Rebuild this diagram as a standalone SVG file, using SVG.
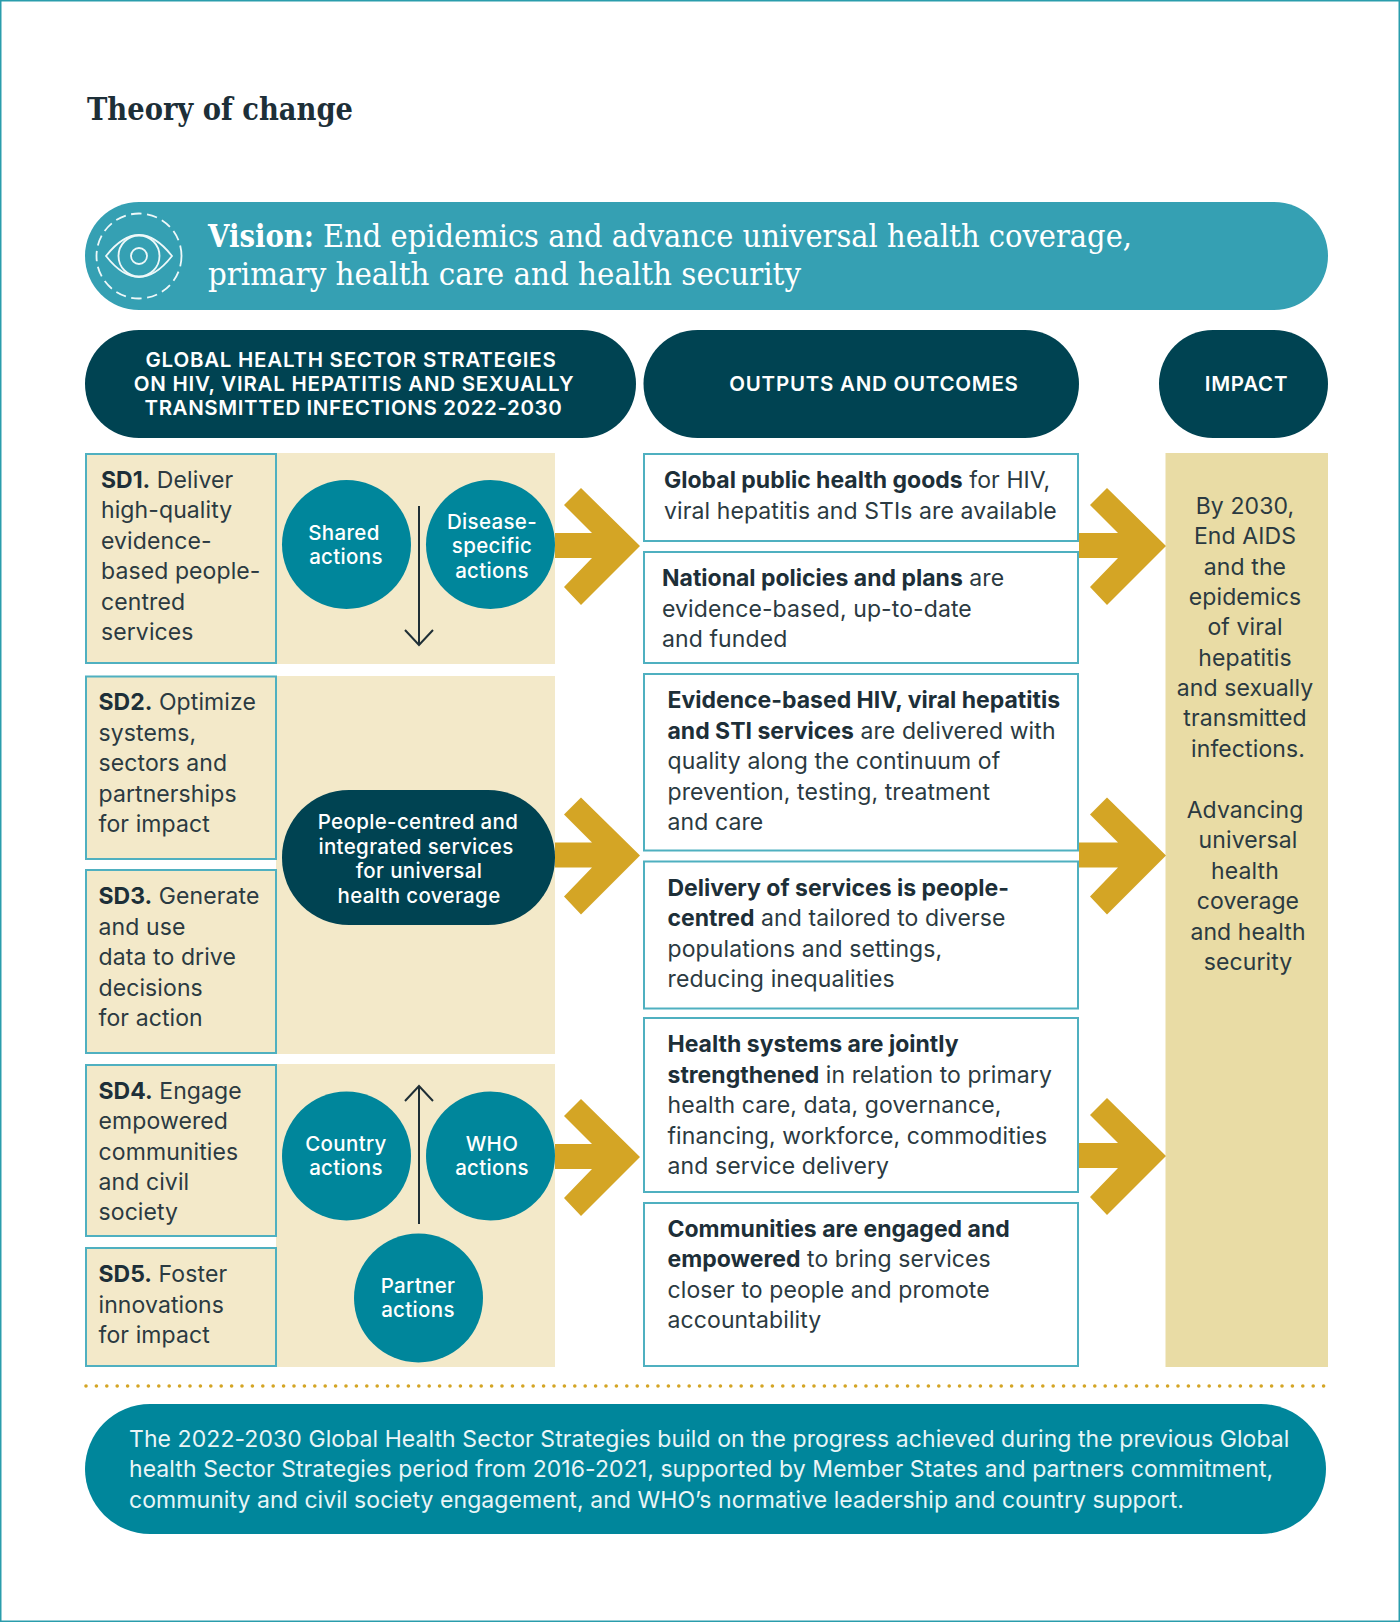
<svg xmlns="http://www.w3.org/2000/svg" width="1400" height="1622" viewBox="0 0 1400 1622">
<style>
text{font-family:Inter,"Liberation Sans",sans-serif}
.b{font-size:23px;fill:#2b3a41;letter-spacing:0.1px}
.s{font-weight:700;fill:#1d2f38;letter-spacing:0}
.w{font-size:20.5px;fill:#fff;font-weight:500;text-anchor:middle;letter-spacing:0.34px}
.h{font-size:20.5px;fill:#fff;font-weight:600;text-anchor:middle;letter-spacing:0.75px}
.f{font-size:23px;fill:#e9f5f7;letter-spacing:0.07px}
.sd{fill:#f3e9c9;stroke:#4fb0c0;stroke-width:2}
.out{fill:#fff;stroke:#4fb0c0;stroke-width:2}
.c{fill:#00869b}
.bg{fill:#f3e9c9}
.gold{fill:#d4a525}
.ln{fill:none;stroke:#1f2f36;stroke-width:2}
.ey{fill:none;stroke:#eef8f9;stroke-width:1.8}
.serif{font-family:"DejaVu Serif","Liberation Serif",serif}
</style>
<rect x="0.75" y="0.75" width="1398.5" height="1620.5" fill="#fff" stroke="#2a9dac" stroke-width="1.5"/>
<text id="title" class="serif" x="87" y="120" font-size="32" font-weight="700" fill="#1d2f38" textLength="266" lengthAdjust="spacingAndGlyphs">Theory of change</text>
<g id="vision">
<rect x="85" y="202" width="1243" height="108" rx="54" fill="#35a0b3"/>
<circle class="ey" cx="139" cy="256" r="42.5" stroke-dasharray="10.500 5.500"/>
<path class="ey" d="M106 256Q139 214 172 256Q139 298 106 256Z"/>
<circle class="ey" cx="139" cy="256" r="20.500"/>
<circle class="ey" cx="139" cy="256" r="8"/>
<text class="serif" x="208" y="247" font-size="31" fill="#fff" font-weight="700" textLength="106" lengthAdjust="spacingAndGlyphs">Vision:</text>
<text class="serif" x="323" y="247" font-size="31" fill="#fff" textLength="809" lengthAdjust="spacingAndGlyphs">End epidemics and advance universal health coverage,</text>
<text class="serif" x="208" y="285" font-size="31" fill="#fff" textLength="593" lengthAdjust="spacingAndGlyphs">primary health care and health security</text>
</g>
<g id="header-strategies"><rect x="85" y="330" width="551" height="108" rx="54" fill="#004352"/>
<text class="h" x="351" y="367">GLOBAL HEALTH SECTOR STRATEGIES</text><text class="h" x="354" y="391">ON HIV, VIRAL HEPATITIS AND SEXUALLY</text><text class="h" x="353.500" y="415" textLength="418">TRANSMITTED INFECTIONS 2022-2030</text></g>
<g id="header-outputs"><rect x="643.500" y="330" width="435.500" height="108" rx="54" fill="#004352"/><text class="h" x="874" y="391">OUTPUTS AND OUTCOMES</text></g>
<g id="header-impact"><rect x="1159" y="330" width="169" height="108" rx="54" fill="#004352"/><text class="h" x="1246.500" y="391">IMPACT</text></g>
<rect class="bg" x="276" y="453" width="279" height="211"/>
<rect class="bg" x="276" y="676" width="279" height="378"/>
<rect class="bg" x="276" y="1064" width="279" height="303"/>
<rect x="1165.500" y="453" width="162.500" height="914" fill="#e9dca5"/>
<g id="sd1"><rect class="sd" x="86" y="454" width="190" height="209"/>
<text class="b" x="101" y="488"><tspan class="s">SD1.</tspan> Deliver</text><text class="b" x="101" y="518">high-quality</text><text class="b" x="101" y="548.500">evidence-</text><text class="b" x="101" y="579">based people-</text><text class="b" x="101" y="609.500">centred</text><text class="b" x="101" y="640">services</text></g>
<g id="sd2"><rect class="sd" x="86" y="676.500" width="190" height="182.500"/>
<text class="b" x="98.500" y="710"><tspan class="s">SD2.</tspan> Optimize</text><text class="b" x="98.500" y="741">systems,</text><text class="b" x="98.500" y="771">sectors and</text><text class="b" x="98.500" y="802">partnerships</text><text class="b" x="98.500" y="832">for impact</text></g>
<g id="sd3"><rect class="sd" x="86" y="870" width="190" height="183"/>
<text class="b" x="98.500" y="904"><tspan class="s">SD3.</tspan> Generate</text><text class="b" x="98.500" y="935">and use</text><text class="b" x="98.500" y="965">data to drive</text><text class="b" x="98.500" y="996">decisions</text><text class="b" x="98.500" y="1026">for action</text></g>
<g id="sd4"><rect class="sd" x="86" y="1065" width="190" height="171"/>
<text class="b" x="98.500" y="1099"><tspan class="s">SD4.</tspan> Engage</text><text class="b" x="98.500" y="1129">empowered</text><text class="b" x="98.500" y="1160">communities</text><text class="b" x="98.500" y="1190">and civil</text><text class="b" x="98.500" y="1220">society</text></g>
<g id="sd5"><rect class="sd" x="86" y="1248" width="190" height="118"/>
<text class="b" x="98.500" y="1282"><tspan class="s">SD5.</tspan> Foster</text><text class="b" x="98.500" y="1312.500">innovations</text><text class="b" x="98.500" y="1343">for impact</text></g>
<g id="connectors">
<path class="ln" d="M419 506V644M405 630L419 645L433 630"/>
<path class="ln" d="M419 1224V1086M405 1101L419 1086L433 1101"/>
<polygon id="a1" class="gold" points="555,533 592,533 564,505 581,488 640,546 581,605 564,587 592,558 555,558"/>
<polygon id="a2" class="gold" points="555,842.500 592,842.500 564,814.500 581,797.500 640,855.500 581,914.500 564,896.500 592,867.500 555,867.500"/>
<polygon id="a3" class="gold" points="555,1144 592,1144 564,1116 581,1099 640,1157 581,1216 564,1198 592,1169 555,1169"/>
<polygon id="a4" class="gold" points="1079,533 1118,533 1090,505 1107,488 1166,546 1107,605 1090,587 1118,558 1079,558"/>
<polygon id="a5" class="gold" points="1079,842.500 1118,842.500 1090,814.500 1107,797.500 1166,855.500 1107,914.500 1090,896.500 1118,867.500 1079,867.500"/>
<polygon id="a6" class="gold" points="1079,1143 1118,1143 1090,1115 1107,1098 1166,1156 1107,1215 1090,1197 1118,1168 1079,1168"/>
</g>
<g id="shared"><circle class="c" cx="346.500" cy="544.500" r="64.500"/><text class="w" x="344" y="540">Shared</text><text class="w" x="346" y="564">actions</text></g>
<g id="disease"><circle class="c" cx="490.500" cy="544.500" r="64.500"/><text class="w" x="492" y="529">Disease-</text><text class="w" x="492" y="553">specific</text><text class="w" x="492" y="577.500">actions</text></g>
<g id="people"><rect x="282" y="790" width="273" height="135" rx="67" fill="#004352"/><text class="w" x="418" y="829">People-centred and</text><text class="w" x="416" y="853.500">integrated services</text><text class="w" x="419" y="878">for universal</text><text class="w" x="419" y="902.500">health coverage</text></g>
<g id="country"><circle class="c" cx="346.500" cy="1156" r="64.500"/><text class="w" x="346" y="1151">Country</text><text class="w" x="346" y="1175">actions</text></g>
<g id="who"><circle class="c" cx="490.500" cy="1156" r="64.500"/><text class="w" x="492" y="1151">WHO</text><text class="w" x="492" y="1175">actions</text></g>
<g id="partner"><circle class="c" cx="418.500" cy="1298" r="64.500"/><text class="w" x="418" y="1292.500">Partner</text><text class="w" x="418" y="1317">actions</text></g>
<g id="out1"><rect class="out" x="644" y="454" width="434" height="87"/><text class="b" x="664" y="488"><tspan class="s">Global public health goods</tspan> for HIV,</text><text class="b" x="664" y="519">viral hepatitis and STIs are available</text></g>
<g id="out2"><rect class="out" x="644" y="552" width="434" height="111"/><text class="b" x="662" y="586"><tspan class="s">National policies and plans</tspan> are</text><text class="b" x="662" y="617">evidence-based, up-to-date</text><text class="b" x="662" y="647">and funded</text></g>
<g id="out3"><rect class="out" x="644" y="674" width="434" height="176.500"/><text class="b" x="667.500" y="708"><tspan class="s">Evidence-based HIV, viral hepatitis</tspan></text><text class="b" x="667.500" y="739"><tspan class="s">and STI services</tspan> are delivered with</text><text class="b" x="667.500" y="769">quality along the continuum of</text><text class="b" x="667.500" y="800">prevention, testing, treatment</text><text class="b" x="667.500" y="830">and care</text></g>
<g id="out4"><rect class="out" x="644" y="861.500" width="434" height="147"/><text class="b" x="667.500" y="896"><tspan class="s">Delivery of services is people-</tspan></text><text class="b" x="667.500" y="926"><tspan class="s">centred</tspan> and tailored to diverse</text><text class="b" x="667.500" y="957">populations and settings,</text><text class="b" x="667.500" y="987">reducing inequalities</text></g>
<g id="out5"><rect class="out" x="644" y="1018" width="434" height="174"/><text class="b" x="667.500" y="1052"><tspan class="s">Health systems are jointly</tspan></text><text class="b" x="667.500" y="1082.500"><tspan class="s">strengthened</tspan> in relation to primary</text><text class="b" x="667.500" y="1113">health care, data, governance,</text><text class="b" x="667.500" y="1143.500">financing, workforce, commodities</text><text class="b" x="667.500" y="1174">and service delivery</text></g>
<g id="out6"><rect class="out" x="644" y="1203" width="434" height="163"/><text class="b" x="667.500" y="1237"><tspan class="s">Communities are engaged and</tspan></text><text class="b" x="667.500" y="1267"><tspan class="s">empowered</tspan> to bring services</text><text class="b" x="667.500" y="1298">closer to people and promote</text><text class="b" x="667.500" y="1328">accountability</text></g>
<g id="impact" class="b" text-anchor="middle">
<text x="1245" y="513.500">By 2030,</text><text x="1245" y="544">End AIDS</text><text x="1245" y="574.500">and the</text><text x="1245" y="605">epidemics</text><text x="1245" y="635">of viral</text><text x="1245" y="666">hepatitis</text><text x="1245" y="696">and sexually</text><text x="1245" y="726">transmitted</text><text x="1248" y="757">infections.</text>
<text x="1245" y="817.500">Advancing</text><text x="1248" y="848">universal</text><text x="1245" y="878.500">health</text><text x="1248" y="909">coverage</text><text x="1248" y="939.500">and health</text><text x="1248" y="970">security</text></g>
<line x1="86" y1="1386" x2="1328" y2="1386" stroke="#d4a525" stroke-width="3.600" stroke-linecap="round" stroke-dasharray="0 10.400"/>
<g id="footer"><rect x="85" y="1404" width="1241" height="130" rx="65" fill="#00869b"/>
<text class="f" x="129" y="1447">The 2022-2030 Global Health Sector Strategies build on the progress achieved during the previous Global</text>
<text class="f" x="129" y="1477">health Sector Strategies period from 2016-2021, supported by Member States and partners commitment,</text>
<text class="f" x="129" y="1507.500">community and civil society engagement, and WHO’s normative leadership and country support.</text></g>
</svg>
